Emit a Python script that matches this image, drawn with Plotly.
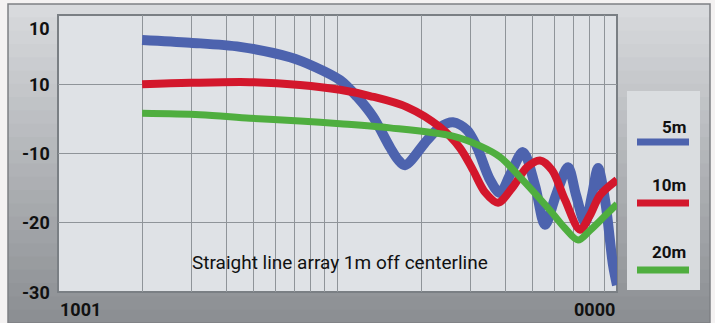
import plotly.graph_objects as go

# frequency response, 1m off centerline (Hz, dB)
freq_5m = [200, 297, 448, 676, 831, 1021, 1174, 1340, 1541, 1647, 1743, 2090, 2326, 2590, 2906,
           3156, 3513, 3814, 4142, 4610, 5089, 5526, 6049, 6679, 7135, 7685, 8142, 8551, 9059,
           9676, 10000]
db_5m = [6.4, 6.0, 5.4, 3.9, 2.5, 0.6, -1.8, -4.7, -9.1, -10.9, -11.7, -8.1, -6.2, -5.5, -6.6,
         -9.1, -13.8, -15.7, -13.1, -9.8, -14.6, -20.3, -16.0, -12.0, -16.0, -20.0, -16.0, -12.1,
         -16.7, -26.1, -29.0]

freq_10m = [200, 297, 486, 734, 1021, 1307, 1773, 2326, 2743, 3053, 3371, 3752, 4210, 4764,
            5303, 5854, 6516, 7374, 8008, 8694, 10000]
db_10m = [0.0, 0.2, 0.3, -0.1, -0.8, -1.7, -3.3, -6.2, -9.2, -12.4, -15.6, -17.1, -15.0, -12.0,
          -11.0, -12.4, -16.7, -21.0, -18.9, -16.0, -13.8]

freq_20m = [200, 322, 486, 734, 1021, 1541, 2590, 3234, 3814, 4498, 5758, 6516, 7254, 8008,
            9059, 10000]
db_20m = [-4.2, -4.4, -4.9, -5.3, -5.7, -6.3, -7.5, -8.9, -10.5, -13.4, -18.2, -20.8, -22.5,
          -21.1, -19.0, -17.3]

series = [("5m", freq_5m, db_5m, "#4d63ae", 10),
          ("10m", freq_10m, db_10m, "#d3172c", 8),
          ("20m", freq_20m, db_20m, "#4fae3f", 7)]

y_ticks = [-30, -20, -10, 0, 10]
y_labels = ["-30", "-20", "-10", "10", "10"]
x_labels = ["1001", "0000"]
note = "Straight line array 1m off centerline"

W, H = 715, 323
L, R, T, B = 58, 617, 15, 292


def px(x):
    return (x - L) / (R - L)


def py(y):
    return (B - y) / (B - T)


fig = go.Figure()
for name, f, d, col, w in series:
    fig.add_trace(go.Scatter(x=f, y=d, mode="lines", name=name,
                             line=dict(color=col, width=w, shape="spline", smoothing=0.9)))

shapes = []
# outer frame gradient
shapes.append(dict(type="rect", xref="paper", yref="paper", x0=px(0), x1=px(W), y0=py(H), y1=py(0),
                   fillcolor="#f4f2f2", line_width=0, layer="below"))
top_c = (216, 218, 221)
bot_c = (140, 143, 147)
n = 24
for i in range(n):
    t = i / (n - 1)
    c = tuple(int(top_c[k] + (bot_c[k] - top_c[k]) * t) for k in range(3))
    y0 = 4 + (H - 4) * i / n
    y1 = 4 + (H - 4) * (i + 1) / n + 1
    shapes.append(dict(type="rect", xref="paper", yref="paper", x0=px(8), x1=px(710),
                       y0=py(y1), y1=py(y0), fillcolor="rgb(%d,%d,%d)" % c, line_width=0,
                       layer="below"))
shapes.append(dict(type="rect", xref="paper", yref="paper", x0=px(8), x1=px(710), y0=py(H), y1=py(4),
                   line=dict(color="#7d8084", width=1.5), layer="below"))
# plot area
shapes.append(dict(type="rect", xref="paper", yref="paper", x0=0, x1=1, y0=0, y1=1,
                   fillcolor="#dfe2e6", line=dict(color="#7a7f84", width=2), layer="below"))
# legend panel
shapes.append(dict(type="rect", xref="paper", yref="paper", x0=px(627), x1=px(700), y0=py(290), y1=py(91),
                   fillcolor="#dadde0", line_width=0, layer="below"))

annotations = []
leg_y = [(127, 142), (185, 203), (252, 270)]
for (name, f, d, col, w), (ty, ly) in zip(series, leg_y):
    shapes.append(dict(type="line", xref="paper", yref="paper", x0=px(637), x1=px(689),
                       y0=py(ly), y1=py(ly), line=dict(color=col, width=7)))
    annotations.append(dict(text="<b>%s</b>" % name, xref="paper", yref="paper", x=px(688), y=py(ty),
                            xanchor="right", yanchor="middle", showarrow=False,
                            font=dict(size=17, color="#111")))

for v, lab in zip(y_ticks, y_labels):
    annotations.append(dict(text="<b>%s</b>" % lab, xref="paper", yref="y", x=px(52), y=v,
                            xanchor="right", yanchor="middle", showarrow=False,
                            yshift=-13 if v == 10 else 0,
                            font=dict(size=18, color="#111")))

annotations.append(dict(text="<b>%s</b>" % x_labels[0], xref="paper", yref="paper", x=0, y=py(309),
                        xanchor="left", yanchor="middle", showarrow=False,
                        font=dict(size=18, color="#111")))
annotations.append(dict(text="<b>%s</b>" % x_labels[1], xref="paper", yref="paper", x=1, y=py(309),
                        xanchor="right", yanchor="middle", showarrow=False,
                        font=dict(size=18, color="#111")))
annotations.append(dict(text=note, xref="paper", yref="paper", x=px(340), y=py(262),
                        xanchor="center", yanchor="middle", showarrow=False,
                        font=dict(size=19, color="#111")))

fig.update_layout(
    width=W, height=H,
    margin=dict(l=L, r=W - R, t=T, b=H - B),
    paper_bgcolor="#f4f2f2",
    plot_bgcolor="#dfe2e6",
    font=dict(family="Roboto, Liberation Sans Narrow, sans-serif"),
    showlegend=False,
    xaxis=dict(type="log", range=[2, 4], dtick="D1", showticklabels=False,
               gridcolor="#8f9499", gridwidth=1, zeroline=False, ticks=""),
    yaxis=dict(range=[-30, 10], tickvals=y_ticks, showticklabels=False,
               gridcolor="#8f9499", gridwidth=1, zeroline=False, ticks=""),
    shapes=shapes,
    annotations=annotations,
)

# page has a default body margin; remove it so the figure sits at the window corner
fig.write_html("out.html", config={"displayModeBar": False},
               post_script="document.body.style.margin='0';")
